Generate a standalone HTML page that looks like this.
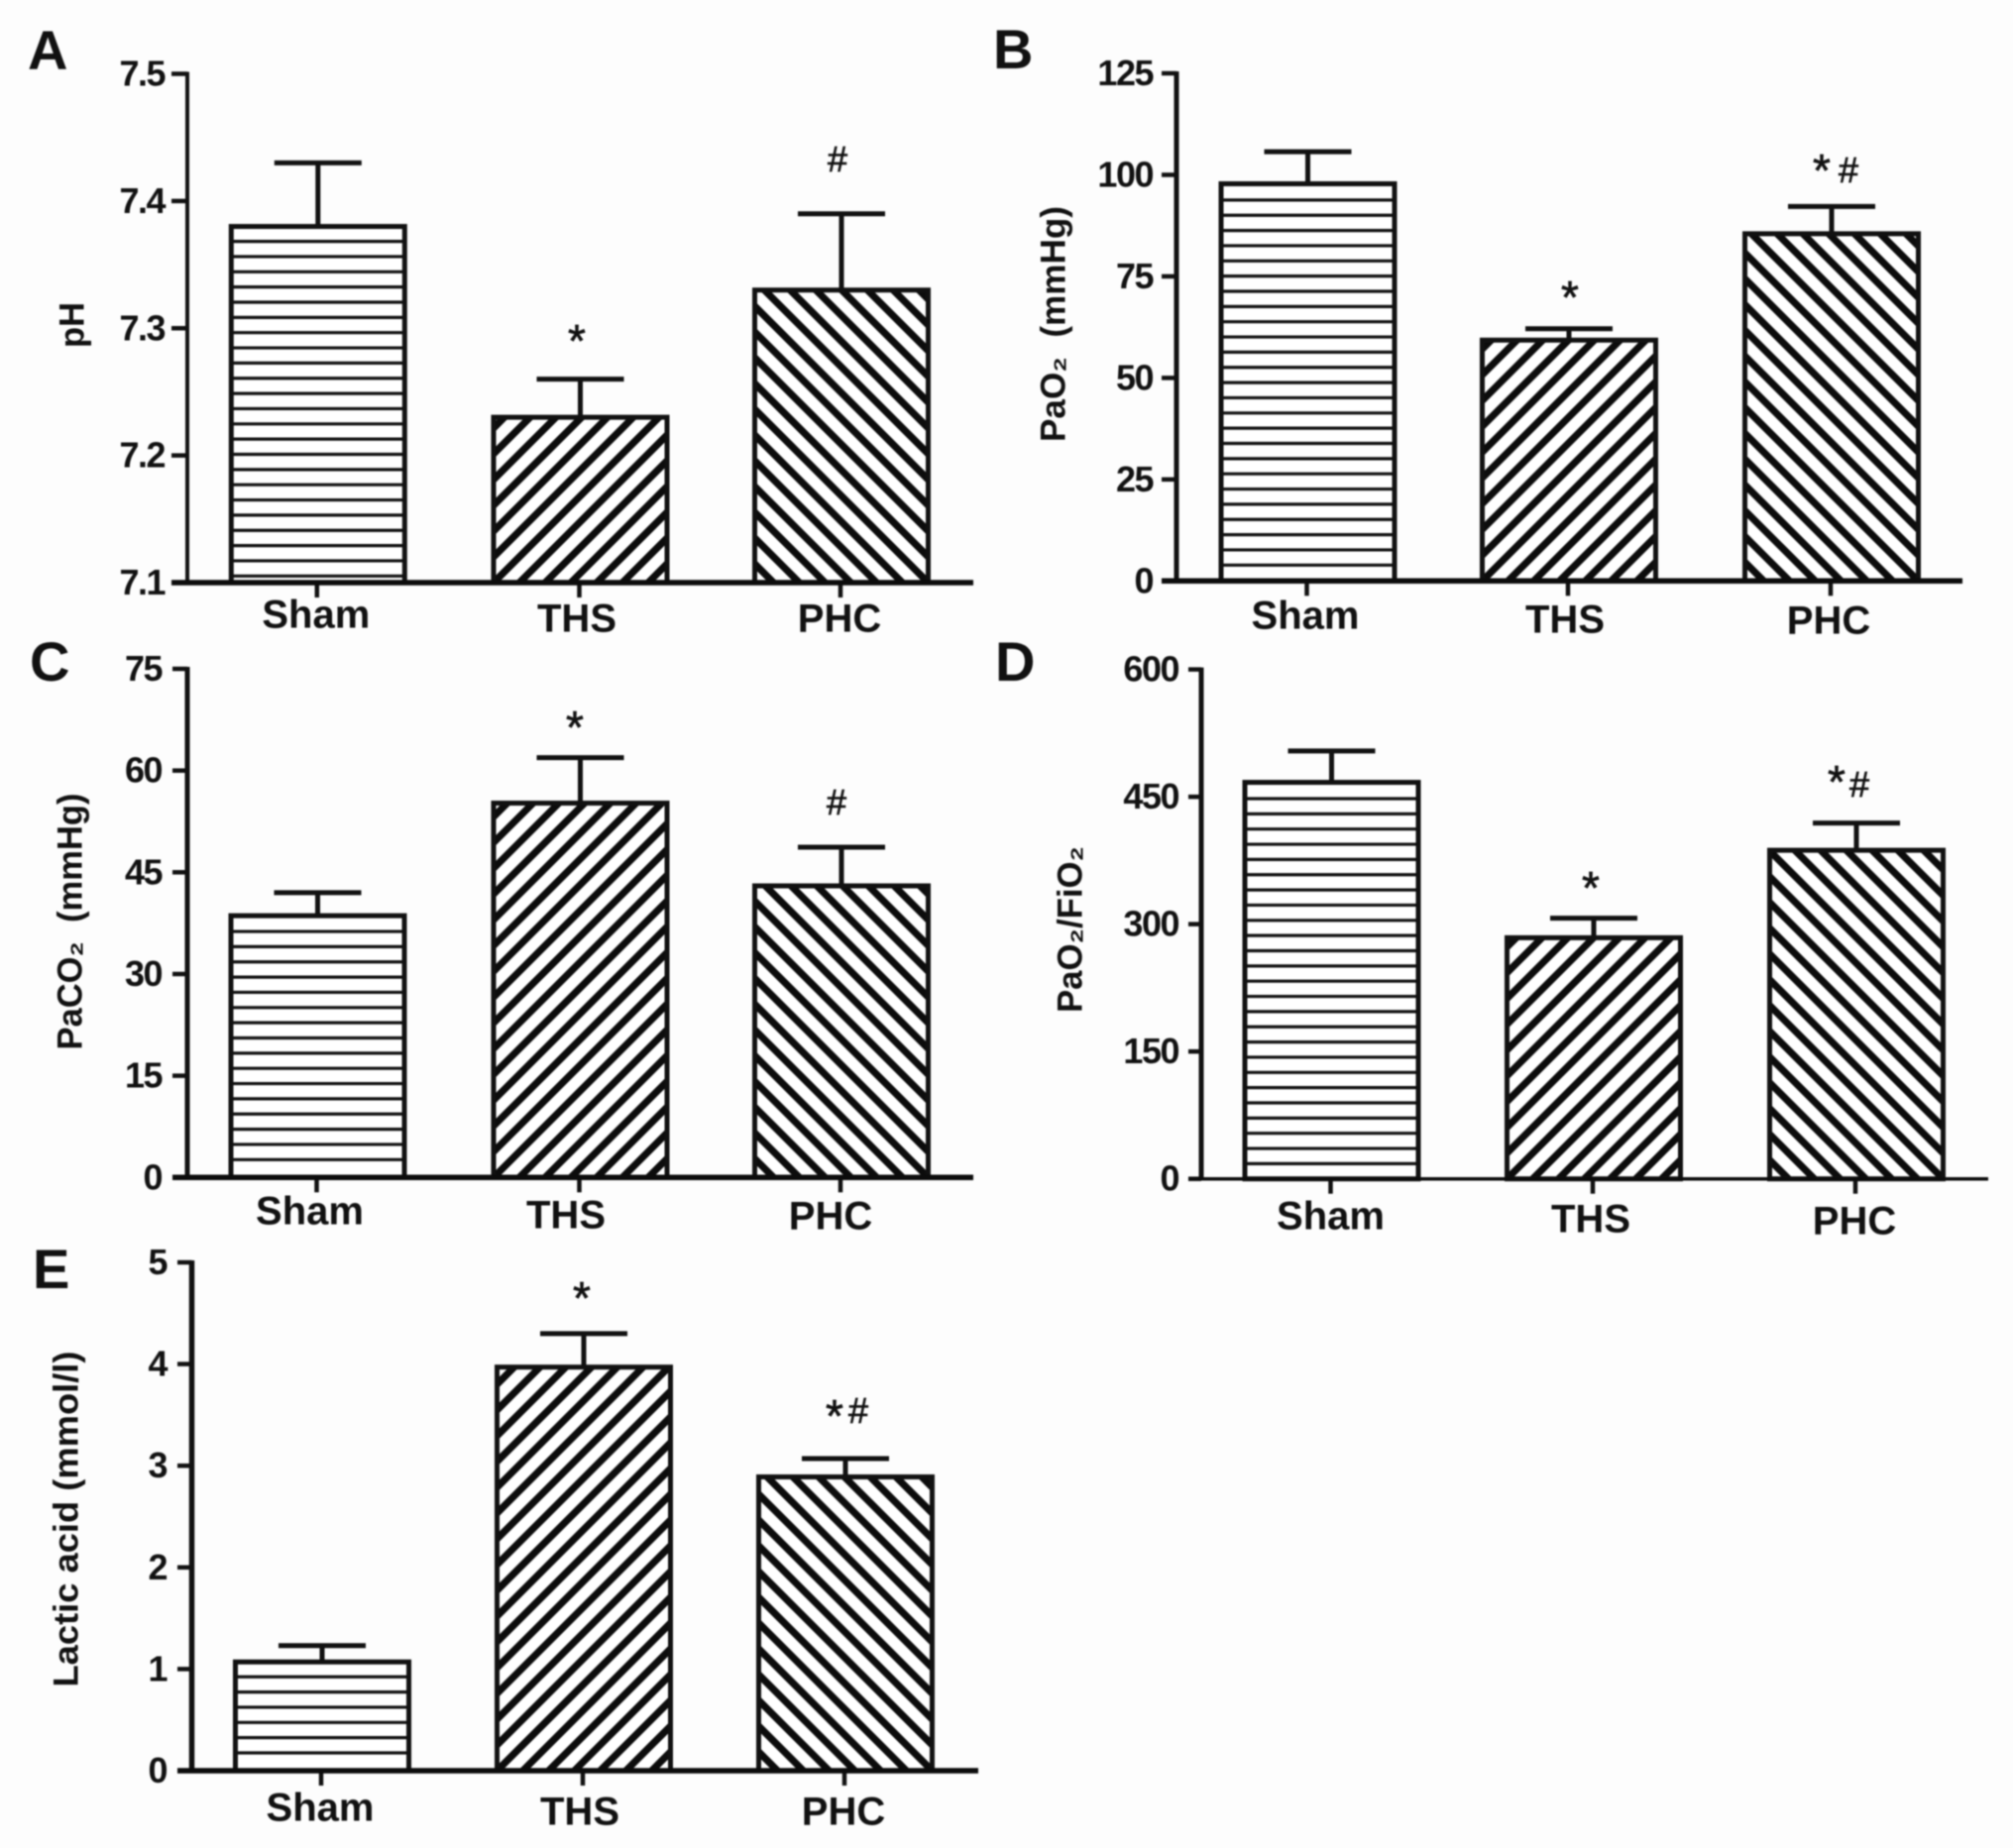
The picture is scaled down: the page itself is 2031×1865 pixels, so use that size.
<!DOCTYPE html>
<html lang="en">
<head>
<meta charset="utf-8">
<title>Blood gas bar charts</title>
<style>
html,body{margin:0;padding:0;background:#fdfdfd;}
#chart{display:block;width:2031px;height:1865px;filter:blur(0.8px);}
text{font-family:"Liberation Sans",Arial,sans-serif;fill:#111;}
</style>
</head>
<body>
<svg id="chart" xmlns="http://www.w3.org/2000/svg" width="2031" height="1865" viewBox="0 0 2031 1865">
<rect x="0" y="0" width="2031" height="1865" fill="#fdfdfd"></rect>
</svg>
<script>
// Data
const categories = ['Sham', 'THS', 'PHC'];

const phValues = [7.38, 7.23, 7.33];
const phUpper = [7.43, 7.26, 7.39];
const phTicks = ['7.1', '7.2', '7.3', '7.4', '7.5'];
const phMarks = ['', '*', '#'];

const pao2Values = [97.8, 59.3, 85.5];
const pao2Upper = [105.7, 62.1, 92.2];
const pao2Ticks = ['0', '25', '50', '75', '100', '125'];
const pao2Marks = ['', '*', '*#'];

const paco2Values = [38.6, 55.2, 43];
const paco2Upper = [42, 61.9, 48.7];
const paco2Ticks = ['0', '15', '30', '45', '60', '75'];
const paco2Marks = ['', '*', '#'];

const ratioValues = [467, 284, 387];
const ratioUpper = [504, 307, 419];
const ratioTicks = ['0', '150', '300', '450', '600'];
const ratioMarks = ['', '*', '*#'];

const lacticValues = [1.07, 3.97, 2.89];
const lacticUpper = [1.23, 4.3, 3.07];
const lacticTicks = ['0', '1', '2', '3', '4', '5'];
const lacticMarks = ['', '*', '*#'];

// Layout
const panels = [
  {id:'a', letter:'A', lx:28, ly:70, title:'pH', tx:73, ty:328, tl:46,
   values:phValues, upper:phUpper, ticks:phTicks, marks:phMarks,
   axisX:189, axisW:4, xL:173, xR:982, top:74.5, base:588, baseW:5.5,
   cx:[320.8,585.5,849], labelDX:[-2,-3.5,-2], labelY:[619,623,623], tickRight:166, hOffset:6.7,
   markAt:[null,[[582,337]],[[845,162]]]},
  {id:'b', letter:'B', lx:1002, ly:69, title:'PaO₂  (mmHg)', tx:1063, ty:327, tl:238,
   values:pao2Values, upper:pao2Upper, ticks:pao2Ticks, marks:pao2Marks,
   axisX:1187, axisW:5, xL:1172, xR:1980, top:74, base:586.3, baseW:5.5,
   cx:[1319.5,1583,1848], labelDX:[-2.5,-4,-3], labelY:[620,624,625], tickRight:1163, hOffset:16,
   markAt:[null,[[1584,293]],[[1838,165],[1865,173]]]},
  {id:'c', letter:'C', lx:30, ly:687, title:'PaCO₂  (mmHg)', tx:71, ty:930, tl:259,
   values:paco2Values, upper:paco2Upper, ticks:paco2Ticks, marks:paco2Marks,
   axisX:189, axisW:5, xL:174, xR:982, top:675, base:1188.3, baseW:5.5,
   cx:[320.5,585.5,849], labelDX:[-8,-14.5,-11], labelY:[1221,1225,1226], tickRight:163, hOffset:18,
   markAt:[null,[[580,727]],[[844,811]]]},
  {id:'d', letter:'D', lx:1004, ly:687, title:'PaO₂/FiO₂', tx:1080, ty:938, tl:168,
   values:ratioValues, upper:ratioUpper, ticks:ratioTicks, marks:ratioMarks,
   axisX:1212, axisW:5, xL:1199, xR:2006, top:675.6, base:1189.7, baseW:3.5,
   cx:[1343.5,1608,1873], labelDX:[-1,-3,-2], labelY:[1226,1229,1231], tickRight:1189, hOffset:15.3,
   markAt:[null,[[1605,889]],[[1853,782],[1876,793]]]},
  {id:'e', letter:'E', lx:33, ly:1300, title:'Lactic acid (mmol/l)', tx:67, ty:1533, tl:339,
   values:lacticValues, upper:lacticUpper, ticks:lacticTicks, marks:lacticMarks,
   axisX:193.5, axisW:5.5, xL:179, xR:987, top:1274, base:1787, baseW:5.5,
   cx:[325,589,853], labelDX:[-2,-4,-2], labelY:[1823,1827,1827], tickRight:168, hOffset:18,
   markAt:[null,[[587,1303]],[[842,1422],[866,1425]]]}
];

const SVGNS = 'http://www.w3.org/2000/svg';
const svg = document.getElementById('chart');
const BAR_W = 175;
const CAP_W = 88;
const H_STEP = 15.35;
const HATCH_STEP = 26;

function make(parent, tag, attrs, txt) {
  const node = document.createElementNS(SVGNS, tag);
  for (const k in attrs) node.setAttribute(k, attrs[k]);
  if (txt !== undefined) node.textContent = txt;
  parent.appendChild(node);
  return node;
}

function yScale(p) {
  const lo = parseFloat(p.ticks[0]);
  const hi = parseFloat(p.ticks[p.ticks.length - 1]);
  return function (v) {
    return p.base - (v - lo) / (hi - lo) * (p.base - p.top);
  };
}

function xScale(p) {
  return function (i) { return p.cx[i]; };
}

function drawFill(group, p, i, left, right, top) {
  const base = p.base;
  if (i === 0) {
    for (let y = base - p.hOffset; y > top + 4; y -= H_STEP) {
      const hl = make(group, 'line', {x1:left, x2:right, y1:y, y2:y, stroke:'#111', 'stroke-width':3.2});
      
      
    }
    return;
  }
  const span = (right - left) + (base - top) + 40;
  const n = Math.ceil(span / HATCH_STEP) + 2;
  for (let k = -1; k < n; k++) {
    let x1, x2;
    if (i === 1) {
      x1 = right - 19 - k * HATCH_STEP;
      x2 = x1 + (base - top + 20);
    } else {
      x1 = left + 19 + k * HATCH_STEP;
      x2 = x1 - (base - top + 20);
    }
    const st = make(group, 'line', {x1:x1, x2:x2, y1:base, y2:top - 20, stroke:'#0c0c0c', 'stroke-width':7.2});
    
    
  }
}

panels.forEach(function (p) {
  const y = yScale(p);
  const x = xScale(p);

  const g = make(svg, 'g', {});
  
  

  const letter = make(g, 'text', {x:p.lx, y:p.ly, 'font-size':56, 'font-weight':'bold'}, p.letter);
  
  

  const title = make(g, 'text', {
    x:p.tx, y:p.ty, 'font-size':35, 'font-weight':'bold', 'text-anchor':'middle',
    'dominant-baseline':'central', textLength:p.tl, lengthAdjust:'spacingAndGlyphs',
    'xml:space':'preserve', style:'white-space:pre',
    transform:'rotate(-90 ' + p.tx + ' ' + p.ty + ')'
  }, p.title);
  
  

  // bars
  p.values.forEach(function (v, i) {
    const cx = x(i);
    const left = cx - BAR_W / 2;
    const right = cx + BAR_W / 2;
    const top = y(v);
    const capY = y(p.upper[i]);

    const eb = make(g, 'line', {x1:cx, x2:cx, y1:capY, y2:top, stroke:'#111', 'stroke-width':5});
    
    

    const cap = make(g, 'line', {x1:cx - CAP_W / 2, x2:cx + CAP_W / 2, y1:capY, y2:capY, stroke:'#111', 'stroke-width':5});
    
    

    const clipId = 'clip-' + p.id + '-' + i;
    const defs = make(g, 'defs', {});
    const clip = make(defs, 'clipPath', {id:clipId});
    make(clip, 'rect', {x:left, y:top, width:BAR_W, height:p.base - top});

    const bg = make(g, 'rect', {x:left, y:top, width:BAR_W, height:p.base - top, fill:'#ffffff'});
    
    

    const hatch = make(g, 'g', {'clip-path':'url(#' + clipId + ')'});
    
    
    drawFill(hatch, p, i, left, right, top);

    const bar = make(g, 'rect', {x:left, y:top, width:BAR_W, height:p.base - top, fill:'none', stroke:'#111', 'stroke-width':5});
    
    

    // significance marks
    const marks = p.marks[i];
    const at = p.markAt[i];
    if (marks && at) {
      Array.from(marks).forEach(function (ch, k) {
        const pos = at[k];
        const isStar = ch === '*';
        const fs = isStar ? 46 : 36;
        const off = isStar ? 23 : 11;
        const m = make(g, 'text', {x:pos[0], y:pos[1] + off, 'font-size':fs, 'text-anchor':'middle', stroke:'#111', 'stroke-width':0.7}, ch);
        
        
      });
    }

    // category tick and label
    const xt = make(g, 'line', {x1:cx - 1, x2:cx - 1, y1:p.base, y2:p.base + 15, stroke:'#111', 'stroke-width':4.5});
    
    

    const lab = make(g, 'text', {
      x:cx + p.labelDX[i], y:p.labelY[i] + 14.3, 'font-size':40, 'font-weight':'bold', 'text-anchor':'middle'
    }, categories[i]);
    
    
  });

  // y axis
  const axis = make(g, 'line', {x1:p.axisX, x2:p.axisX, y1:p.top - 2, y2:p.base, stroke:'#111', 'stroke-width':p.axisW});
  
  

  p.ticks.forEach(function (t) {
    const ty = y(parseFloat(t));
    const tick = make(g, 'line', {x1:p.xL, x2:p.axisX, y1:ty, y2:ty, stroke:'#111', 'stroke-width':4.5});
    
    

    const tl = make(g, 'text', {
      x:p.tickRight, y:ty + 12, 'font-size':36, 'font-weight':'bold', 'text-anchor':'end', 'letter-spacing':'-1.5px'
    }, t);
    
    
  });

  // x axis
  const xa = make(g, 'line', {x1:p.xL, x2:p.xR, y1:p.base, y2:p.base, stroke:'#0c0c0c', 'stroke-width':p.baseW});
  
  
});
</script>
</body>
</html>
